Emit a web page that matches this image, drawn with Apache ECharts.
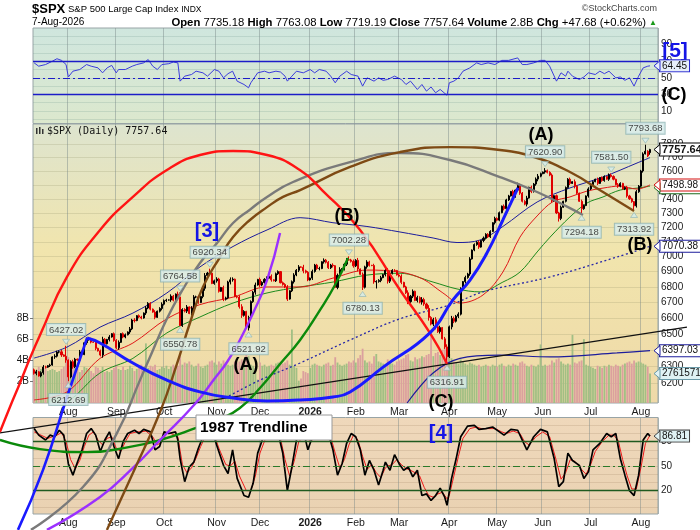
<!DOCTYPE html>
<html><head><meta charset="utf-8">
<script src="https://cdn.jsdelivr.net/npm/echarts@6/dist/echarts.min.js"></script>
<style>html,body{margin:0;padding:0;background:#fff}#c{width:700px;height:530px}</style>
</head><body><div id="c"></div>
<script>
// ---------------- DATA ----------------
const startDate = '2025-07-11', endDate = '2026-08-07';
const holidays = ['2025-09-01','2025-11-27','2025-12-25','2026-01-01','2026-01-19','2026-02-16','2026-04-03','2026-05-25','2026-06-19','2026-07-03'];
const futureSlots = 3;

const closes = [
6259.75,6268.56,6243.76,6263.70,6297.36,6296.79,6305.60,6309.62,6358.91,6363.35,
6388.64,6389.77,6370.86,6362.90,6339.39,6238.01,6329.94,6299.19,6345.06,6340.00,
6389.45,6373.45,6445.76,6466.58,6468.54,6449.80,6449.15,6411.37,6395.78,6370.17,
6466.91,6439.32,6465.94,6481.40,6501.86,6460.26,6415.54,6448.26,6502.08,6481.50,
6495.15,6512.61,6532.04,6587.47,6584.29,6615.28,6606.76,6600.35,6631.96,6664.36,
6693.75,6656.92,6637.97,6604.72,6643.70,6661.21,6688.46,6711.20,6715.35,6715.79,
6740.28,6714.59,6753.72,6735.11,6552.51,6654.72,6644.31,6671.06,6629.07,6664.01,
6735.13,6735.35,6699.40,6738.44,6791.69,6875.16,6890.89,6890.59,6822.34,6840.20,
6851.97,6771.55,6796.29,6720.32,6728.80,6832.43,6846.61,6850.92,6737.49,6734.11,
6672.41,6617.32,6642.16,6538.76,6602.99,6705.12,6765.88,6812.61,6849.09,6812.63,
6829.37,6849.72,6857.12,6870.40,6846.51,6840.51,6886.68,6901.00,6827.41,6816.51,
6800.26,6721.43,6774.76,6834.50,6878.49,6909.79,6932.05,6929.94,6905.74,6896.24,
6845.50,
6858,6902,6944,6921,6921,6966,6977,6963,6926,
6944,6940,6797,6876,6914,6916,6950,6979,6978,6969,
6939,6976,6918,6883,6798,6932,6965,6942,6941,6833,
6836,6843,6861,6881,6909,6838,6890,6909,6908,6879,
6871,6830,6800,6762,6705,6740,6772,6712,6731,6702,
6718,6690,6662,6604,6562,6590,6545,6515,6540,6470,
6420,6360,6545,6598,6580,6612,6625,6790,6835,6862,
6885,6985,7045,7082,7098,7065,7110,7125,7152,7135,
7172,7232,7262,7250,7302,7348,7330,7392,7420,7452,
7412,7462,7495,7440,7382,7362,7405,7482,7452,7505,
7541,7562,7580,7592,7602,7590,7570,7385,7422,7300,
7262,7340,7382,7480,7540,7510,7522,7490,7440,7382,
7330,7352,7420,7470,7500,7522,7540,7510,7552,7530,
7560,7540,7570,7560,7540,7500,7490,7510,7470,7480,
7420,7400,7380,7350,7450,7490,7600,7725,7745,7709.96,
7757.64
];
const openOverride = {0:6280.46, 270:7735.18};
const highOverride = {14:6427.02, 64:6764.58, 77:6920.34, 138:7002.28, 212:7515, 224:7620.90, 253:7581.50, 268:7793.68, 270:7763.08};
const lowOverride  = {15:6212.69, 64:6550.78, 94:6521.92, 144:6780.13, 150:6790, 181:6316.91, 230:7240, 240:7294.18, 263:7313.92, 270:7719.19};
const wickDigits = "2312321213 2231412321 3213221312 4213122312 2132312213 2213123221 3214522313 3221342212 3213224312 3421322413 2231312212 2312323142 2132231322 2313422312 3241323213 2231343221 2312423132 4325234231 3424323213 2312231322 2132213221 3123224132 3421322312 2312231421 3213221312 2132213212 3221322312 2".replace(/ /g,'');

const volumes = [
2.9,3.1,3.4,3.2,3.0,3.3,3.0,3.1,3.2,3.1, 2.9,3.0,3.2,3.4,4.1,4.3,3.6,3.5,3.3,3.2,
2.9,3.1,3.4,3.3,3.2,3.0,2.8,3.4,3.3,3.1, 3.4,2.9,3.0,2.9,3.1,3.3,3.6,3.2,3.1,3.4,
3.1,3.2,3.5,3.3,3.0,3.2,3.3,3.6,3.4,5.6, 3.3,3.5,3.4,3.6,3.1,3.2,3.4,3.3,3.5,3.2,
3.4,3.6,3.3,3.5,4.4,3.6,3.8,3.7,3.9,3.6, 3.4,3.5,3.7,3.4,3.3,3.5,3.6,3.9,4.0,3.8,
3.6,3.9,3.7,4.0,3.8,3.6,3.5,3.6,3.9,3.8, 3.9,4.1,3.8,4.5,4.4,3.6,3.5,3.3,2.2,3.8,
3.5,3.6,3.4,3.5,3.6,3.5,3.7,3.8,3.9,3.7, 3.8,4.0,3.6,6.9,3.5,3.3,2.1,2.3,3.0,2.9,
2.8,3.3,3.6,3.7,3.6,3.5,3.4,3.6,3.7,3.8, 3.5,3.6,4.3,3.8,3.6,3.5,3.6,3.7,3.9,3.8,
4.0,3.8,4.2,4.5,5.1,4.0,3.8,3.9,3.7,4.4, 4.6,3.9,3.8,3.7,3.6,4.1,3.8,3.7,3.6,3.9,
4.0,4.1,4.2,4.5,4.6,4.0,3.9,4.3,4.1,4.2, 4.4,4.3,4.5,4.6,6.4,4.4,4.7,4.8,4.5,5.0,
5.2,5.0,4.6,4.2,3.9,3.8,3.7,4.1,3.9,3.7, 3.6,3.8,3.7,3.6,3.5,3.6,3.4,3.5,3.6,3.5,
3.4,3.6,3.5,3.4,3.6,3.7,3.5,3.4,3.6,3.5, 3.7,3.6,3.5,3.8,3.9,3.7,3.5,3.4,3.6,3.5,
3.4,3.6,5.5,3.5,3.6,3.5,3.6,4.0,3.8,4.1, 4.2,3.9,3.7,3.6,3.7,3.6,6.4,3.8,3.7,3.9,
4.0,6.0,3.6,3.5,3.4,3.3,3.2,3.5,3.4,3.3, 3.5,3.4,3.6,3.5,3.4,3.6,3.5,3.4,3.6,3.7,
3.8,3.9,3.7,4.0,3.8,3.9,3.8,3.7,3.6,3.4, 2.761571
];

// overlays: [tradingDayIndex, price]
const maUpper = [[0,6352],[14.4,6419],[28.9,6543],[43.3,6632],[58.2,6761],[72.7,6932],[87.2,7069],[102.1,7182],[116.6,7267],[131,7232],[145.9,7206],[160.4,7168],[174.9,7127],[185.4,7096],[195.5,7113],[205.5,7206],[220.5,7377],[234.9,7477],[249.4,7556],[264.3,7658],[270,7698]];
const maRed = [[0,6102],[14.4,6149],[28.9,6350],[43.3,6444],[58.2,6596],[72.7,6686],[87.2,6734],[102.1,6800],[116.6,6800],[131,6858],[145.9,6911],[160.4,6898],[170.5,6851],[179.2,6761],[186.7,6696],[196.8,6748],[205.5,6898],[213,7133],[220.5,7279],[227.5,7380],[234.9,7413],[242.4,7455],[249.4,7476],[256.9,7491],[264.3,7469],[270,7498.98]];
const maGreen = [[0,6032],[14.4,6090],[28.9,6262],[43.3,6350],[58.2,6507],[72.7,6607],[87.2,6696],[102.1,6761],[116.6,6800],[131,6832],[145.9,6878],[160.4,6890],[174.9,6832],[185.4,6787],[195.5,6768],[205.5,6832],[213,6898],[220.5,7032],[226.2,7133],[234.9,7272],[242.4,7370],[249.4,7413],[256.9,7462],[264.3,7476],[270,7490]];
const maDotted = [[83.7,6113],[99,6219],[116.6,6322],[138.5,6463],[160.4,6596],[182.3,6684],[196.8,6768],[226.2,6866],[255.5,6998],[270,7070.38]];
const maLower = [[163.5,6084],[174.9,6262],[186.7,6350],[204.2,6370],[226.2,6359],[255.5,6383],[270,6397.03]];

const arcRed = [[-15,5917],[-10.6,6061],[-6.2,6202],[-1.8,6352],[2.6,6494],[14.4,6866],[28.9,7182],[43.3,7413],[58.2,7607],[72.7,7717],[87.2,7747],[102.1,7717],[116.5,7607],[126.2,7462],[142.9,7182],[160.4,6780],[173.5,6507],[181,6316.91]];
const arcGray = [[-1.4,5387],[21.4,5613],[36.3,5911],[46.4,6219],[50.8,6358],[58.2,6596],[65.3,6787],[72.7,6958],[80.2,7093],[87.2,7230],[94.6,7323],[102.1,7413],[113.5,7520],[138.5,7665],[160.4,7732],[182.3,7680],[204.2,7556],[220.5,7448],[234.9,7334],[240.6,7286]];
const arcBrown = [[31.9,5387],[43.3,5689],[55.2,6032],[62.6,6316],[68.3,6569],[74,6800],[81.5,6998],[87.2,7133],[94.6,7251],[102.1,7341],[109.1,7413],[116.6,7462],[138.5,7629],[160.4,7739],[182.3,7776],[204.2,7754],[220.5,7695],[234.9,7592],[249.4,7448],[263,7313.92]];
const arcPurple = [[5.6,5387],[28.9,5560],[43.3,5717],[55.2,5872],[70.5,6078],[79.3,6231],[84.6,6328],[90.2,6463],[96,6632],[102.1,6845],[107.8,7161]];
const arcGreen = [[-15,5872],[2.6,5821],[23.2,5804],[42,5833],[55.2,5872],[71,5940],[81.5,5991],[90.2,6055],[99,6172],[107.8,6316],[116.6,6463],[125.3,6651],[131.9,6813],[137.6,6992]];
const arcBlueUp = [[-7.1,5387],[3.9,5706],[14.4,6119],[23.2,6475]];
const arcBlueBowl = [[23.2,6475],[28.9,6444],[43.3,6322],[58.2,6219],[72.7,6149],[87.2,6113],[102.1,6096],[116.6,6102],[131,6119],[138.5,6149],[153,6297],[173.5,6507],[183.6,6716],[191.1,6845],[198.5,7025],[205.5,7251],[212.1,7477]];
const trend1987 = [[-15,5912],[286.2,6543]];

const callouts = [[14,6427.02,'top'],[15,6212.69,'bottom'],[64,6764.58,'top'],[64,6550.78,'bottom'],[77,6920.34,'top'],[94,6521.92,'bottom'],[138,7002.28,'top'],[144,6780.13,'bottom'],[181,6316.91,'bottom'],[224,7620.90,'top'],[240,7294.18,'bottom'],[253,7581.50,'top'],[263,7313.92,'bottom'],[268,7793.68,'top']];

const rsi = [[0,68],[2,64],[5,66],[8,70],[10,73],[12,71],[14,66],[15,51],[17,58],[20,60],[23,66],[25,64],[28,62],[30,56],[32,62],[34,65],[36,56],[37,60],[40,60],[43,64],[45,66],[48,68],[50,72],[52,64],[54,60],[56,66],[59,67],[61,69],[63,68],[64,46],[66,52],[69,54],[71,58],[74,56],[76,52],[79,60],[81,58],[83,50],[85,55],[87,58],[89,46],[92,42],[94,38],[95,44],[98,56],[101,58],[103,56],[106,58],[108,57],[110,52],[111,46],[113,52],[115,58],[118,56],[121,60],[123,56],[125,60],[128,58],[130,52],[132,44],[134,52],[137,58],[139,54],[142,52],[144,40],[146,50],[149,46],[151,50],[153,47],[155,48],[158,52],[161,48],[163,42],[165,46],[168,36],[170,42],[172,34],[174,39],[176,32],[178,36],[181,29],[182,44],[184,46],[186,50],[188,58],[191,62],[194,68],[196,66],[199,68],[202,66],[205,71],[208,71],[212,74],[214,66],[216,66],[219,68],[222,71],[224,71],[226,64],[229,46],[231,56],[233,52],[234,58],[236,52],[239,48],[241,51],[243,56],[246,54],[248,58],[250,55],[252,58],[255,50],[257,51],[259,47],[261,50],[263,40],[265,52],[267,62],[269,64],[270,64.45]];
const stochK = [[0,96],[2,88],[5,82],[7,88],[9,86],[11,94],[13,88],[15,53],[17,39],[19,55],[21,70],[23,90],[25,96],[27,88],[29,68],[31,82],[33,92],[35,74],[37,59],[39,80],[41,90],[44,94],[46,90],[48,95],[51,92],[53,70],[55,74],[57,92],[59,90],[62,92],[63,82],[64,59],[66,31],[68,49],[70,55],[72,72],[74,86],[76,92],[78,95],[80,76],[83,51],[85,41],[87,70],[89,35],[92,14],[94,12],[96,29],[98,66],[101,90],[103,95],[105,97],[107,90],[109,66],[111,20],[113,49],[115,82],[118,94],[120,70],[122,86],[124,92],[126,92],[129,90],[131,70],[133,39],[135,53],[137,78],[139,90],[141,86],[143,70],[145,39],[147,57],[149,45],[151,27],[153,45],[154,55],[156,45],[158,64],[160,53],[162,45],[164,49],[166,37],[168,45],[170,14],[172,16],[174,8],[176,14],[178,23],[180,12],[181,2],[183,35],[185,59],[187,86],[190,99],[193,100],[195,95],[198,96],[201,98],[204,92],[206,88],[209,95],[212,94],[214,82],[216,70],[219,86],[222,95],[225,92],[228,59],[230,25],[232,31],[234,66],[236,57],[239,51],[241,35],[243,43],[245,70],[248,78],[251,90],[253,86],[255,90],[257,59],[259,39],[261,20],[263,14],[265,39],[267,82],[269,90],[270,86.81]];
const stochD = [[0,92],[3,88],[6,84],[8,86],[10,88],[12,91],[14,80],[16,58],[18,47],[20,57],[22,74],[24,88],[26,92],[28,82],[30,76],[32,84],[34,86],[36,72],[38,68],[40,80],[42,90],[45,92],[47,92],[49,93],[52,86],[54,76],[56,80],[58,90],[60,90],[63,86],[65,52],[67,42],[69,48],[71,60],[73,74],[75,86],[77,92],[79,88],[81,72],[84,52],[86,50],[88,56],[90,38],[93,20],[95,20],[97,38],[99,66],[102,88],[104,94],[106,94],[108,84],[110,58],[112,38],[114,56],[116,80],[119,88],[121,80],[123,84],[125,90],[127,91],[130,86],[132,66],[134,48],[136,58],[138,76],[140,88],[142,82],[144,62],[146,46],[148,52],[150,42],[152,36],[154,48],[155,50],[157,52],[159,58],[161,52],[163,47],[165,45],[167,42],[169,38],[171,24],[173,14],[175,12],[177,16],[179,18],[181,10],[182,14],[184,38],[186,62],[188,84],[191,96],[194,98],[196,96],[199,96],[202,96],[205,92],[207,90],[210,93],[213,90],[215,80],[217,76],[220,86],[223,92],[226,86],[229,56],[231,34],[233,42],[235,58],[237,56],[240,46],[242,40],[244,52],[246,68],[249,80],[252,88],[254,88],[256,82],[258,58],[260,38],[262,22],[264,22],[266,48],[268,78],[270,88]];

const priceTicks = [6200,6300,6400,6500,6600,6700,6800,6900,7000,7100,7200,7300,7400,7500,7600,7700,7800];
const volTicks = [2,4,6,8];
const rsiTicks = [10,30,50,70,90];
const rsiLevels = [70,50,30];
const stochTicks = [20,50,80];
const stochLevels = [80,50,20];
const gridTicks = [0,10,20,30,40,50,60,70,80,90,100];
const monthNames = ['Jan','Feb','Mar','Apr','May','Jun','Jul','Aug','Sep','Oct','Nov','Dec'];

// ---------------- BUILD ----------------
const L = Math.log;
function tradingDays(s, e, hol) {
  const out = []; const d = new Date(s + 'T00:00:00Z'); const end = new Date(e + 'T00:00:00Z');
  while (d <= end) {
    const wd = d.getUTCDay(); const k = d.toISOString().slice(0, 10);
    if (wd > 0 && wd < 6 && hol.indexOf(k) < 0) out.push(k);
    d.setUTCDate(d.getUTCDate() + 1);
  }
  return out;
}
const dates = tradingDays(startDate, endDate, holidays);
const cats = dates.slice(); for (let k = 0; k < futureSlots; k++) cats.push('f' + k);
const N = cats.length;
const monthStart = new Set();
dates.forEach((d, i) => { if (i > 0 && d.slice(5, 7) !== dates[i - 1].slice(5, 7)) monthStart.add(i); });

const candles = [], vols = [];
for (let i = 0; i < N; i++) {
  if (i >= closes.length) { candles.push('-'); vols.push('-'); continue; }
  const c = closes[i];
  const o = openOverride[i] !== undefined ? openOverride[i] : closes[i - 1];
  const w = (parseInt(wickDigits[i]) || 2) * 4;
  const h = highOverride[i] !== undefined ? highOverride[i] : Math.max(o, c) + w;
  const l = lowOverride[i] !== undefined ? lowOverride[i] : Math.min(o, c) - w;
  candles.push([L(o), L(c), L(l), L(h)]);
  const up = i === 0 ? c >= o : c >= closes[i - 1];
  vols.push({ value: volumes[i], itemStyle: { color: up ? '#a2bf84' : '#dba09e' } });
}
const lp = arr => arr.map(p => [p[0], L(p[1])]);

const FONT = 'Liberation Sans, Arial, sans-serif';
const W = 700, H = 530;
const PL = 33, PR = 42;                 // plot left / right margins
const MAIN_TOP = 124, MAIN_H = 279;
const PMIN = L(6084), PMAX = L(7950);
const grids = [
  { left: PL, right: PR, top: 28, height: 95.5 },
  { left: PL, right: PR, top: MAIN_TOP, height: MAIN_H },
  { left: PL, right: PR, top: 417.5, height: 96.5 }
];
const bgs = [
  [[0, '#cfe6de'], [1, '#dce8cd']],
  [[0, '#dde4cf'], [0.45, '#f1e5ad'], [1, '#efd9a8']],
  [[0, '#efd8bb'], [1, '#ead2b2']]
];
grids.forEach((g, i) => {
  g.show = true; g.borderColor = '#98a4a6'; g.borderWidth = 1;
  g.backgroundColor = new echarts.graphic.LinearGradient(0, 0, 0, 1, bgs[i].map(s => ({ offset: s[0], color: s[1] })));
});
// full-canvas overlay grid sharing the main panel's scales, so annotation arcs can run past the panel
grids.push({ left: 0, top: 0, width: W, height: H, show: false });
const plotW = W - PL - PR;
const fullX = { min: -PL * N / plotW - 0.5, max: (W - PL) * N / plotW - 0.5 };
const perPx = (PMAX - PMIN) / MAIN_H;
const fullY = { min: PMAX - (H - MAIN_TOP) * perPx, max: PMAX + MAIN_TOP * perPx };

function monthFmt(v) {
  const m = parseInt(v.slice(5, 7)) - 1;
  return m === 0 ? '{b|' + v.slice(0, 4) + '}' : monthNames[m];
}
function catAxis(gi, showLabel) {
  return {
    type: 'category', gridIndex: gi, data: cats, boundaryGap: true,
    axisLine: { show: false }, axisTick: { show: false },
    axisLabel: { show: showLabel, interval: (i) => monthStart.has(i), formatter: monthFmt, color: '#1a1a1a', fontSize: 10.5, fontFamily: FONT, margin: 4,
      rich: { b: { fontWeight: 'bold', fontSize: 10.5, fontFamily: FONT, color: '#1a1a1a' } } },
    splitLine: { show: true, interval: (i) => monthStart.has(i), lineStyle: { color: 'rgba(120,135,135,0.45)', width: 1 } }
  };
}
function ovAxis(gi) { return { type: 'value', gridIndex: gi, min: -0.5, max: N - 0.5, show: false }; }
const yLabel = { color: '#1a1a1a', fontSize: 10, fontFamily: FONT, margin: 3 };

const lineS = (data, color, width, extra) => Object.assign({
  type: 'line', xAxisIndex: 3, yAxisIndex: 1, data: lp(data), showSymbol: false, smooth: 0.35,
  lineStyle: { color, width }, silent: true, animation: false
}, extra || {});
const arcS = (data, color, width, extra) => lineS(data, color, width, Object.assign({ xAxisIndex: 6, yAxisIndex: 4, clip: false, z: 6, smooth: 0.5 }, extra || {}));

const levelLine = (v, color, dashed) => ({ yAxis: v, lineStyle: { color, width: dashed ? 1 : 1.3, type: dashed ? [7, 3, 2, 3] : 'solid' } });

const option = {
  animation: false,
  grid: grids,
  xAxis: [catAxis(0, false), catAxis(1, true), catAxis(2, true), ovAxis(1), ovAxis(0), ovAxis(2),
    { type: 'value', gridIndex: 3, min: fullX.min, max: fullX.max, show: false }],
  yAxis: [
    { type: 'value', gridIndex: 0, position: 'right', min: -5, max: 110, axisLine: { show: false },
      axisLabel: Object.assign({ customValues: rsiTicks }, yLabel), axisTick: { show: false, customValues: gridTicks },
      splitLine: { show: true, lineStyle: { color: 'rgba(110,150,140,0.22)' } } },
    { type: 'value', gridIndex: 1, position: 'right', min: PMIN, max: PMAX, axisLine: { show: false },
      axisLabel: Object.assign({ customValues: priceTicks.map(L), formatter: v => String(Math.round(Math.exp(v))) }, yLabel),
      axisTick: { show: false, customValues: priceTicks.map(L) },
      splitLine: { show: true, lineStyle: { color: 'rgba(140,140,100,0.22)' } } },
    { type: 'value', gridIndex: 1, position: 'left', min: 0, max: 26.2, axisLine: { show: false },
      axisLabel: Object.assign({ customValues: volTicks, formatter: v => v + 'B' }, yLabel, { margin: 4 }),
      axisTick: { show: true, customValues: volTicks, length: 3, lineStyle: { color: '#777' } }, splitLine: { show: false } },
    { type: 'value', gridIndex: 2, position: 'right', min: -8.6, max: 109.6, axisLine: { show: false },
      axisLabel: Object.assign({ customValues: stochTicks }, yLabel), axisTick: { show: false, customValues: gridTicks },
      splitLine: { show: true, lineStyle: { color: 'rgba(150,120,90,0.2)' } } },
    { type: 'value', gridIndex: 3, min: fullY.min, max: fullY.max, show: false }
  ],
  series: [
    { type: 'bar', xAxisIndex: 1, yAxisIndex: 2, data: vols, barCategoryGap: '20%', silent: true, z: 1 },
    lineS(maUpper, '#1c1c9c', 1),
    lineS(maGreen, '#1d8a1d', 1),
    lineS(maRed, '#e01818', 1),
    lineS(maDotted, '#2626a8', 1.3, { lineStyle: { color: '#2626a8', width: 1.3, type: [2, 2.5] } }),
    lineS(maLower, '#1c1c9c', 1.2),
    { type: 'candlestick', xAxisIndex: 1, yAxisIndex: 1, data: candles, barWidth: '68%', z: 4, silent: true,
      itemStyle: { color: '#000', color0: '#e00000', borderColor: '#000', borderColor0: '#e00000', borderWidth: 1 } },
    arcS(trend1987, '#111', 1.1, { smooth: false, z: 5 }),
    arcS(arcGreen, '#0b8a0b', 2.4),
    arcS(arcPurple, '#9b30ff', 2.4),
    arcS(arcGray, '#7a7a7a', 2.4),
    arcS(arcBrown, '#7e4a14', 2.4),
    arcS(arcRed, '#ff1414', 2.4),
    arcS(arcBlueUp, '#1a1aff', 2.6),
    arcS(arcBlueBowl, '#1a1aff', 3),
    { type: 'scatter', xAxisIndex: 3, yAxisIndex: 1, z: 8, silent: true,
      data: callouts.map(c => ({ value: [c[0], L(c[1])], symbol: 'triangle', symbolSize: [7, 5],
        symbolRotate: c[2] === 'top' ? 180 : 0, symbolOffset: [0, c[2] === 'top' ? -4 : 4],
        label: { show: true, position: c[2], distance: c[2] === 'top' ? 4 : 6, formatter: c[1].toFixed(2) } })),
      itemStyle: { color: '#d4ecec', borderColor: '#8fb4b4', borderWidth: 0.8 },
      label: { color: '#1a1a1a', fontSize: 9.5, fontFamily: FONT, backgroundColor: '#d9eeee', borderColor: '#8fb4b4', borderWidth: 1, padding: [1, 2, 0, 2], lineHeight: 10 } },
    { type: 'line', xAxisIndex: 4, yAxisIndex: 0, data: rsi, showSymbol: false, lineStyle: { color: '#3c3cdc', width: 1 }, silent: true, z: 3,
      markLine: { silent: true, symbol: 'none', label: { show: false }, animation: false,
        data: rsiLevels.map(v => levelLine(v, '#1c1cc8', v === 50)) } },
    { type: 'line', xAxisIndex: 5, yAxisIndex: 3, data: stochD, showSymbol: false, lineStyle: { color: '#ee1a1a', width: 1 }, silent: true, z: 3,
      markLine: { silent: true, symbol: 'none', label: { show: false }, animation: false,
        data: stochLevels.map(v => levelLine(v, v === 50 ? '#2a7a2a' : '#1f5a1f', v === 50)) } },
    { type: 'line', xAxisIndex: 5, yAxisIndex: 3, data: stochK, showSymbol: false, lineStyle: { color: '#000', width: 1.7 }, silent: true, z: 4 }
  ]
};

const chart = echarts.init(document.getElementById('c'));
chart.setOption(option);

// ---------- text & value boxes ----------
const last = closes.length - 1;
const chg = closes[last] - closes[last - 1];
const pct = chg / closes[last - 1] * 100;
const py = (ai, v) => chart.convertToPixel({ yAxisIndex: ai }, v);
const T = (x, y, text, st) => ({ type: 'text', x, y, z: 100, silent: true, style: Object.assign({ text, fill: '#000', font: '10px ' + FONT }, st || {}) });
const valueBox = (y, text, border, bold, bg) => [
  { type: 'polygon', z: 101, silent: true, shape: { points: [[660, y - 5], [654, y], [660, y + 5]] }, style: { fill: bg || '#fff', stroke: border, lineWidth: 1 } },
  T(660, y, text, { font: (bold ? 'bold 11px ' : '10px ') + FONT, fill: '#111', verticalAlign: 'middle', backgroundColor: bg || '#fff', borderColor: border, borderWidth: 1, padding: [1, 2, 0, 2] })
];
const bigLbl = (x, y, t, color, size) => T(x, y, t, { font: 'bold ' + (size || 18) + 'px ' + FONT, fill: color || '#000', align: 'center', verticalAlign: 'middle' });

const g = [
  T(32, 3, '{a|$SPX} {b|S&P 500 Large Cap Index} {c|INDX}', { rich: { a: { font: 'bold 13px ' + FONT, fill: '#000' }, b: { font: '9.5px ' + FONT, fill: '#000' }, c: { font: '8.5px ' + FONT, fill: '#000' } } }),
  T(657, 4, '©StockCharts.com', { font: '9px ' + FONT, fill: '#444', align: 'right' }),
  T(32, 17, '7-Aug-2026', { font: '10px ' + FONT }),
  T(657, 17, '{k|Open} ' + openOverride[last].toFixed(2) + ' {k|High} ' + highOverride[last].toFixed(2) + ' {k|Low} ' + lowOverride[last].toFixed(2) +
    ' {k|Close} ' + closes[last].toFixed(2) + ' {k|Volume} 2.8B {k|Chg} +' + chg.toFixed(2) + ' (+' + pct.toFixed(2) + '%) {g|▲}',
    { font: '11.3px ' + FONT, align: 'right', rich: { k: { font: 'bold 11.3px ' + FONT, fill: '#000' }, g: { font: '8px ' + FONT, fill: '#1a9a1a' } } }),
  T(47, 126, '$SPX (Daily) ' + closes[last].toFixed(2), { font: '10px DejaVu Sans Mono, monospace', fill: '#111' }),
  { type: 'rect', z: 100, silent: true, shape: { x: 36, y: 128, width: 1.5, height: 6 }, style: { fill: '#333' } },
  { type: 'rect', z: 100, silent: true, shape: { x: 39, y: 127, width: 1.5, height: 7 }, style: { fill: '#333' } },
  { type: 'rect', z: 100, silent: true, shape: { x: 42, y: 129, width: 1.5, height: 5 }, style: { fill: '#333' } },
  bigLbl(207, 231, '[3]', '#1515e6', 20),
  bigLbl(246, 365, '(A)'),
  bigLbl(347, 216, '(B)'),
  bigLbl(441, 402, '(C)'),
  bigLbl(541, 135, '(A)'),
  bigLbl(640, 245, '(B)'),
  bigLbl(441, 433, '[4]', '#1515e6', 20),
  bigLbl(675, 51, '[5]', '#1515e6', 21),
  bigLbl(674, 95, '(C)', '#000', 18),
  { type: 'rect', z: 100, silent: true, shape: { x: 196, y: 415, width: 136, height: 25 }, style: { fill: '#fff', stroke: '#9a9a9a', lineWidth: 1 } },
  T(200, 428, '1987 Trendline', { font: 'bold 15.5px ' + FONT, verticalAlign: 'middle' })
];
g.push(...valueBox(py(1, L(maGreen[maGreen.length - 1][1])) + 1.5, maRed[maRed.length - 1][1].toFixed(2), '#1d6a1d'));
g.push(...valueBox(py(1, L(maRed[maRed.length - 1][1])), maRed[maRed.length - 1][1].toFixed(2), '#d41010'));
g.push(...valueBox(py(1, L(maDotted[maDotted.length - 1][1])), maDotted[maDotted.length - 1][1].toFixed(2), '#1c1c9c'));
g.push(...valueBox(py(1, L(maLower[maLower.length - 1][1])), maLower[maLower.length - 1][1].toFixed(2), '#1c1c9c'));
g.push(...valueBox(py(2, volumes[last]), String(Math.round(volumes[last] * 1e6)), '#6a9aa8', false, '#dff2f4'));
g.push(...valueBox(py(1, L(closes[last])), closes[last].toFixed(2), '#000', true));
g.push(...valueBox(py(0, rsi[rsi.length - 1][1]), rsi[rsi.length - 1][1].toFixed(2), '#2a2ad0', false, '#e6eefa'));
g.push(...valueBox(py(3, stochK[stochK.length - 1][1]), stochK[stochK.length - 1][1].toFixed(2), '#444', false, '#dff2f4'));
chart.setOption({ graphic: g });
</script></body></html>
